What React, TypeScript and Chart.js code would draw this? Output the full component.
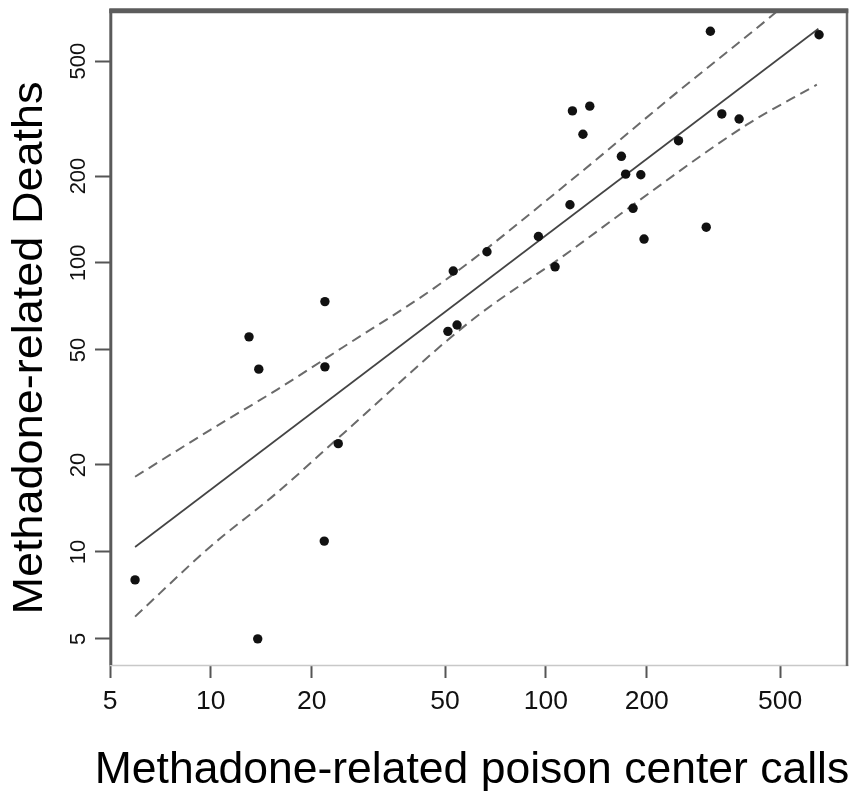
import React, { useEffect, useRef } from "react";
import { Chart, registerables } from "chart.js";

Chart.register(...registerables);

const xTicks = [5, 10, 20, 50, 100, 200, 500];
const yTicks = [5, 10, 20, 50, 100, 200, 500];

const callsX = [5.94, 13.8, 13.0, 13.9, 21.9, 21.9, 24.0, 21.8, 51, 54.3, 52.9, 66.7, 95, 106.5, 118, 120, 135.2, 129, 168, 173, 192, 182, 196.3, 248.8, 301, 309.7, 335, 377.3, 653.6];
const deathsY = [8.0, 5.0, 55.5, 42.9, 73.5, 43.7, 23.7, 10.9, 58, 61, 93.8, 109.4, 123.5, 97, 159, 336, 349, 279, 234, 203, 202, 154.6, 121, 265, 133, 634, 328, 315, 616.5];

const fitX = [5.94, 650.7];
const fitY = [10.4, 646.9];

const upperX = [5.94, 9.94, 15.73, 24.86, 49.4, 118, 234.7, 483, 650];
const upperY = [18.2, 26.4, 36.4, 51.2, 86.2, 191.8, 372, 733, 984];

const lowerX = [5.94, 9.94, 15.73, 24.86, 59.4, 118, 182.4, 397.8, 643.6];
const lowerY = [5.97, 10.4, 16.0, 25.7, 62.7, 109.8, 159.2, 301, 414];

const xTitle = "Methadone-related poison center calls";
const yTitle = "Methadone-related Deaths";

const FONT = '"Liberation Sans", Arial, Helvetica, sans-serif';

const pairs = (xs: number[], ys: number[]) => xs.map((x, i) => ({ x, y: ys[i] }));

const framePlugin = {
  id: "frame",
  afterDraw(chart: any) {
    const ctx = chart.ctx;
    const { left, right, top, bottom } = chart.chartArea;
    const yScale = chart.scales.y;
    ctx.save();
    ctx.lineCap = "butt";
    ctx.strokeStyle = "#c8c8c8";
    ctx.lineWidth = 1.5;
    ctx.beginPath();
    ctx.moveTo(left, bottom + 0.5);
    ctx.lineTo(right + 1.5, bottom + 0.5);
    ctx.stroke();
    ctx.strokeStyle = "#6a6a6a";
    ctx.lineWidth = 2.5;
    ctx.beginPath();
    ctx.moveTo(right, top - 2);
    ctx.lineTo(right, bottom + 1);
    ctx.stroke();
    ctx.strokeStyle = "#5a5a5a";
    ctx.lineWidth = 3;
    ctx.beginPath();
    ctx.moveTo(left + 0.8, top - 2);
    ctx.lineTo(left + 0.8, bottom);
    ctx.stroke();
    ctx.strokeStyle = "#5c5c5c";
    ctx.lineWidth = 5;
    ctx.beginPath();
    ctx.moveTo(left - 0.7, top - 0.2);
    ctx.lineTo(right + 1.3, top - 0.2);
    ctx.stroke();

    ctx.fillStyle = "#111";
    ctx.font = `22px ${FONT}`;
    ctx.textAlign = "center";
    ctx.textBaseline = "middle";
    yTicks.forEach((v) => {
      const py = yScale.getPixelForValue(v);
      ctx.save();
      ctx.translate(79, py);
      ctx.rotate(-Math.PI / 2);
      ctx.fillText(String(v), 0, 0);
      ctx.restore();
    });

    ctx.save();
    ctx.translate(42, 348);
    ctx.rotate(-Math.PI / 2);
    ctx.scale(1.047, 1);
    ctx.font = `43px ${FONT}`;
    ctx.textAlign = "center";
    ctx.textBaseline = "alphabetic";
    ctx.fillStyle = "#000";
    ctx.fillText(yTitle, 0, 0);
    ctx.restore();

    ctx.font = `44.5px ${FONT}`;
    ctx.textAlign = "center";
    ctx.textBaseline = "alphabetic";
    ctx.fillStyle = "#000";
    ctx.fillText(xTitle, 472, 783);
    ctx.restore();
  },
};

export default function App() {
  const ref = useRef<HTMLCanvasElement | null>(null);

  useEffect(() => {
    if (!ref.current) return;
    const chart = new Chart(ref.current, {
      type: "scatter",
      data: {
        datasets: [
          {
            label: "points",
            data: pairs(callsX, deathsY),
            pointRadius: 4.7,
            pointBackgroundColor: "#111",
            pointBorderColor: "#111",
            pointBorderWidth: 0,
            showLine: false,
          },
          {
            label: "fit",
            data: pairs(fitX, fitY),
            showLine: true,
            pointRadius: 0,
            borderColor: "#444",
            borderWidth: 1.7,
          },
          {
            label: "upper",
            data: pairs(upperX, upperY),
            showLine: true,
            pointRadius: 0,
            borderColor: "#6a6a6a",
            borderWidth: 2,
            borderDash: [10, 6],
            cubicInterpolationMode: "monotone",
          },
          {
            label: "lower",
            data: pairs(lowerX, lowerY),
            showLine: true,
            pointRadius: 0,
            borderColor: "#6a6a6a",
            borderWidth: 2,
            borderDash: [10, 6],
            cubicInterpolationMode: "monotone",
          },
        ],
      },
      options: {
        animation: false,
        responsive: false,
        maintainAspectRatio: false,
        layout: { padding: { top: 11, right: 10, left: 0, bottom: 0 } },
        plugins: { legend: { display: false }, tooltip: { enabled: false } },
        scales: {
          x: {
            type: "logarithmic",
            position: "bottom",
            min: 5,
            max: 792,
            afterBuildTicks: (s: any) => {
              s.ticks = xTicks.map((v) => ({ value: v }));
            },
            afterFit: (s: any) => {
              s.height = 126;
            },
            ticks: {
              autoSkip: false,
              maxRotation: 0,
              minRotation: 0,
              padding: 8,
              color: "#111",
              font: { family: FONT, size: 26.5 },
              callback: (v: any) => String(v),
            },
            grid: {
              display: true,
              drawOnChartArea: false,
              drawTicks: true,
              tickLength: 13,
              tickColor: "#555",
              tickWidth: 2,
            },
            border: { display: false },
          },
          y: {
            type: "logarithmic",
            position: "left",
            min: 4.06,
            max: 745,
            afterBuildTicks: (s: any) => {
              s.ticks = yTicks.map((v) => ({ value: v }));
            },
            afterFit: (s: any) => {
              s.width = 110;
            },
            ticks: { display: false },
            grid: {
              display: true,
              drawOnChartArea: false,
              drawTicks: true,
              tickLength: 15,
              tickColor: "#555",
              tickWidth: 2,
            },
            border: { display: false },
          },
        },
      },
      plugins: [framePlugin],
    });
    return () => chart.destroy();
  }, []);

  return (
    <div style={{ position: "fixed", left: 0, top: 0, width: 857, height: 791, background: "#fff" }}>
      <canvas ref={ref} width={857} height={791} style={{ display: "block" }} />
    </div>
  );
}
